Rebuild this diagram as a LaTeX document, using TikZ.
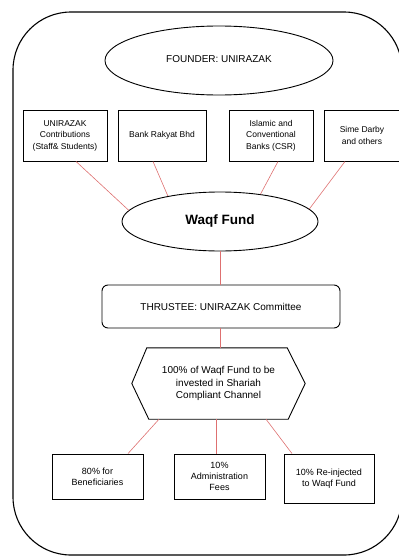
\documentclass[tikz,border=0pt]{standalone}
\usepackage{fontspec}
\setmainfont{Liberation Sans}
\usepackage{xcolor}
\usetikzlibrary{calc}
\usetikzlibrary{positioning,shapes}
\definecolor{linkred}{RGB}{222,112,112}
\tikzset{
  frame/.style={draw=black, line width=0.9pt},
  oval/.style={frame, ellipse, inner sep=0pt, align=center},
  srcbox/.style={frame, rectangle, inner sep=0pt, align=center,
    font=\fontsize{8.5}{11.5}\selectfont, minimum height=51pt},
  outbox/.style={frame, rectangle, inner sep=0pt, align=center,
    font=\fontsize{9}{11.3}\selectfont},
  link/.style={draw=linkred, line width=0.6pt}
}

\begin{document}
\begin{tikzpicture}[x=1pt,y=-1pt]
\useasboundingbox (0,0) rectangle (399,557);
\clip (0,0) rectangle (399,557);
\draw[frame, line width=1.1pt, rounded corners=58pt] (13,12) rectangle (402,555);

\node[oval, minimum width=228pt, minimum height=69pt,
      font=\fontsize{10}{12}\selectfont] (founder) at (219,60.5) {\raisebox{3pt}{FOUNDER: UNIRAZAK}};

\node[srcbox, minimum width=84pt] (src1) at (65,135.5) {UNIRAZAK\\Contributions\\(Staff\& Students)};
\node[srcbox, minimum width=88pt] (src2) at (162,135.5) {Bank Rakyat Bhd};
\node[srcbox, minimum width=84pt] (src3) at (271,135.5) {Islamic and\\Conventional\\Banks (CSR)};
\node[srcbox, minimum width=76pt] (src4) at (362,135.5) {Sime Darby\\and others};

\node[oval, minimum width=196pt, minimum height=59pt,
      font=\fontsize{13.5}{15}\selectfont\bfseries] (fund) at (220,221.5) {Waqf Fund};

\draw[link] ([xshift=11pt]src1.south) -- (fund.173);
\draw[link] ([xshift=-9pt]src2.south) -- (fund.154);
\draw[link] ([xshift=7pt]src3.south) -- (fund.34);
\draw[link] ([xshift=-17pt]src4.south) -- (fund.8);

\node[frame, rounded corners=6pt, minimum width=238pt, minimum height=43pt,
      font=\fontsize{10}{12}\selectfont] (trustee) at (221,306.5) {THRUSTEE: UNIRAZAK Committee};
\draw[link] (fund.south) -- (trustee.north -| fund.south);

\node[inner sep=0pt, minimum width=173pt, minimum height=71pt, align=center,
      font=\fontsize{10}{12.3}\selectfont] (invest) at (218.5,383.5)
      {100\% of Waqf Fund to be\\invested in Shariah\\Compliant Channel};
\draw[frame] (invest.west) -- ([xshift=15pt]invest.north west) -- ([xshift=-18pt]invest.north east)
  -- (invest.east) -- ([xshift=-17pt]invest.south east) -- ([xshift=17pt]invest.south west) -- cycle;
\draw[link] (trustee.south -| fund.south) -- (invest.north -| fund.south);

\node[outbox, minimum width=91pt, minimum height=45pt] (outA) at (97.5,476.5) {80\% for\\Beneficiaries};
\node[outbox, minimum width=91pt, minimum height=45pt] (outB) at (219.5,476.5) {10\%\\Administration\\Fees};
\node[outbox, minimum width=90pt, minimum height=49pt] (outC) at (329,478.5) {10\% Re-injected\\to Waqf Fund};

\draw[link] ([xshift=-59.5pt]invest.south) -- ([xshift=30.5pt]outA.north);
\draw[link] ([xshift=-2.5pt]invest.south) -- ([xshift=-3.5pt]outB.north);
\draw[link] ([xshift=47.5pt]invest.south) -- ([xshift=-37pt]outC.north);
\end{tikzpicture}
\end{document}
